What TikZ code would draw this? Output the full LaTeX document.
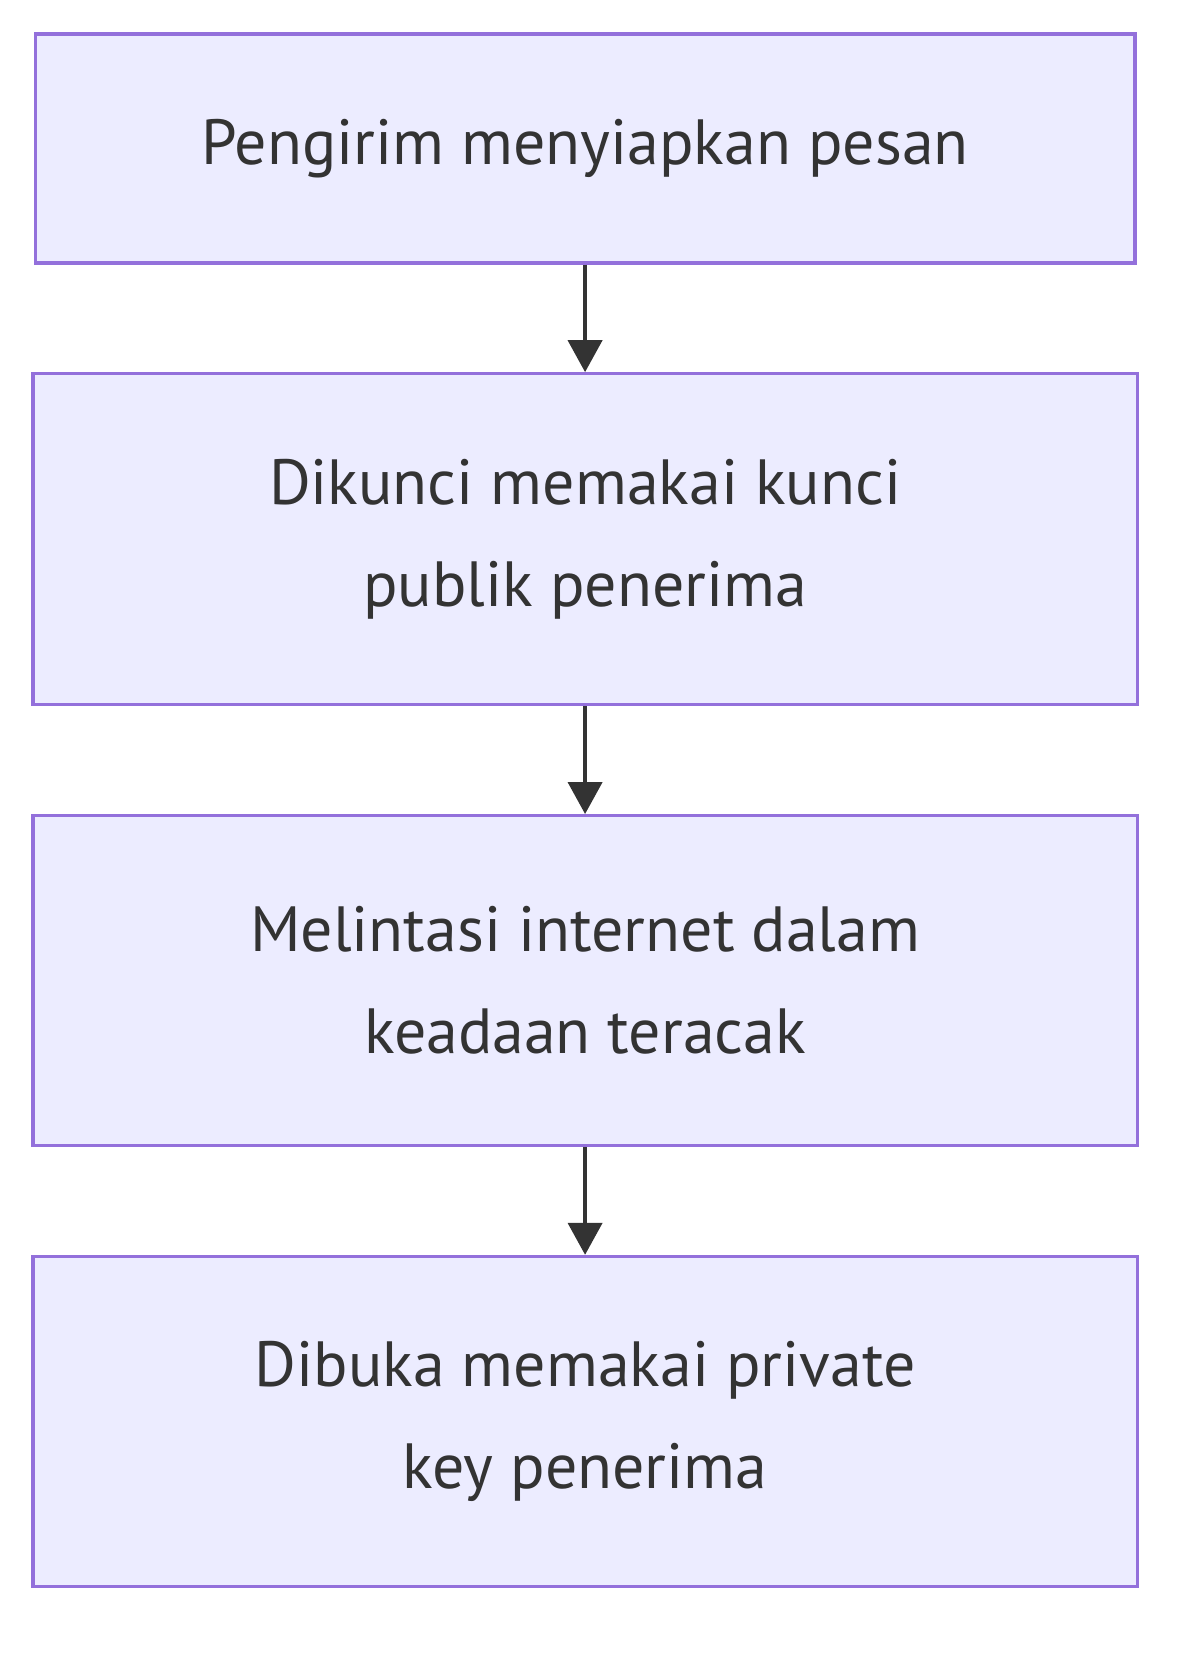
\documentclass[tikz,border=0pt]{standalone}
\usepackage{fontspec}
\setmainfont{PT Sans}
\usetikzlibrary{arrows.meta}
\definecolor{boxfill}{HTML}{ECECFF}
\definecolor{boxline}{HTML}{9370DB}
\definecolor{txt}{HTML}{333333}
\begin{document}
\begin{tikzpicture}[x=1pt,y=-1pt,
  box/.style={draw=boxline,fill=boxfill,line width=3pt,text=txt,align=center,font=\fontsize{60}{96}\selectfont,inner sep=0pt},
  arr/.style={draw=txt,line width=3.5pt,-{Triangle[length=30pt,width=32pt]}}]
\useasboundingbox (0,0) rectangle (1127,1560);
\fill[white] (0,0) rectangle (1127,1560);
\node[box,minimum width=1033pt,minimum height=215pt] (a) at (549.5,139.5) {Pengirim menyiapkan pesan};
\node[box,minimum width=1037pt,minimum height=311pt] (b) at (549.5,506.5) {Dikunci memakai kunci\\publik penerima};
\node[box,minimum width=1037pt,minimum height=310pt] (c) at (549.5,921) {Melintasi internet dalam\\keadaan teracak};
\node[box,minimum width=1037pt,minimum height=310pt] (d) at (549.5,1335) {Dibuka memakai private\\key penerima};
\draw[arr] (a.south) -- (b.north);
\draw[arr] (b.south) -- (c.north);
\draw[arr] (c.south) -- (d.north);
\end{tikzpicture}
\end{document}
